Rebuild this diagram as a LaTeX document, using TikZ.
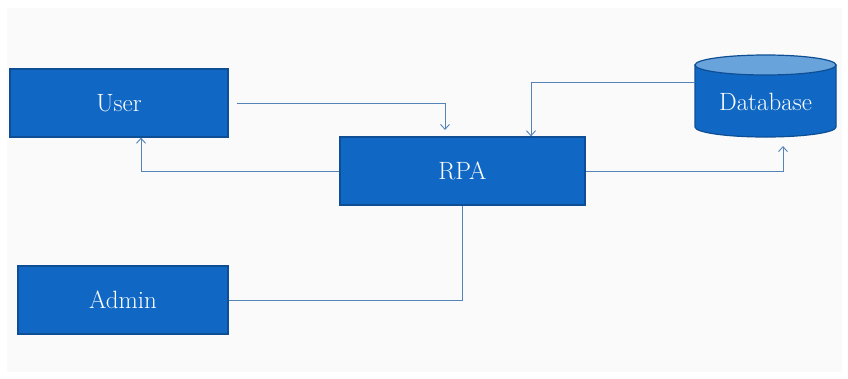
\documentclass[tikz,border=0pt]{standalone}
\usepackage{tikz}
\usetikzlibrary{arrows.meta}
\usetikzlibrary{positioning}

\definecolor{boxfill}{HTML}{1068C4}
\definecolor{boxdraw}{HTML}{0E4E95}
\definecolor{dbtop}{HTML}{69A3DC}
\definecolor{wire}{HTML}{5483B8}
\definecolor{slide}{HTML}{FAFAFA}

\begin{document}
\begin{tikzpicture}[x=1pt,y=-1pt,
		block/.style={rectangle,draw=boxdraw,line width=1.2pt,fill=boxfill,text=white,
			font=\fontsize{25}{30}\selectfont},
		link/.style={draw=wire,line width=0.9pt},
		tip/.style={link,-{Straight Barb[length=5pt,width=9pt]}}]
		\useasboundingbox (0,0) rectangle (848,378);
		\fill[slide] (7,8) rectangle (842,372);
		
		\node[block,minimum width=218,minimum height=68] (user)  at (119,103) {User};
		\node[block,minimum width=245,minimum height=68] (rpa)   at (462.5,171) {RPA};
		\node[block,minimum width=210,minimum height=68] (admin) at (123,300) {Admin};
		
		% database drum
		\draw[boxdraw,line width=1.2pt,fill=boxfill] (695,65) -- (695,127)
			arc[start angle=180,end angle=360,x radius=70.5pt,y radius=10pt] -- (836,65) -- cycle;
		\draw[boxdraw,line width=1.2pt,fill=dbtop] (765.5,65) ellipse[x radius=70.5pt,y radius=10pt];
		\node[minimum width=141,minimum height=60,text=white,
			font=\fontsize{25}{30}\selectfont] (db) at (765.5,102) {Database};
		
		\coordinate (usertip) at (445,130);
		\coordinate (dbtip)   at (783,146);
		
		\draw[tip] ([xshift=8pt]user.east) -| (usertip);
		\draw[tip] (rpa.west) -| ([xshift=22pt]user.south);
		\draw[tip] (db.west |- 0,82) -| ([xshift=68.5pt]rpa.north);
		\draw[tip] (rpa.east) -| (dbtip);
		\draw[link] (admin.east) -| (rpa.south);
\end{tikzpicture}
\end{document}
